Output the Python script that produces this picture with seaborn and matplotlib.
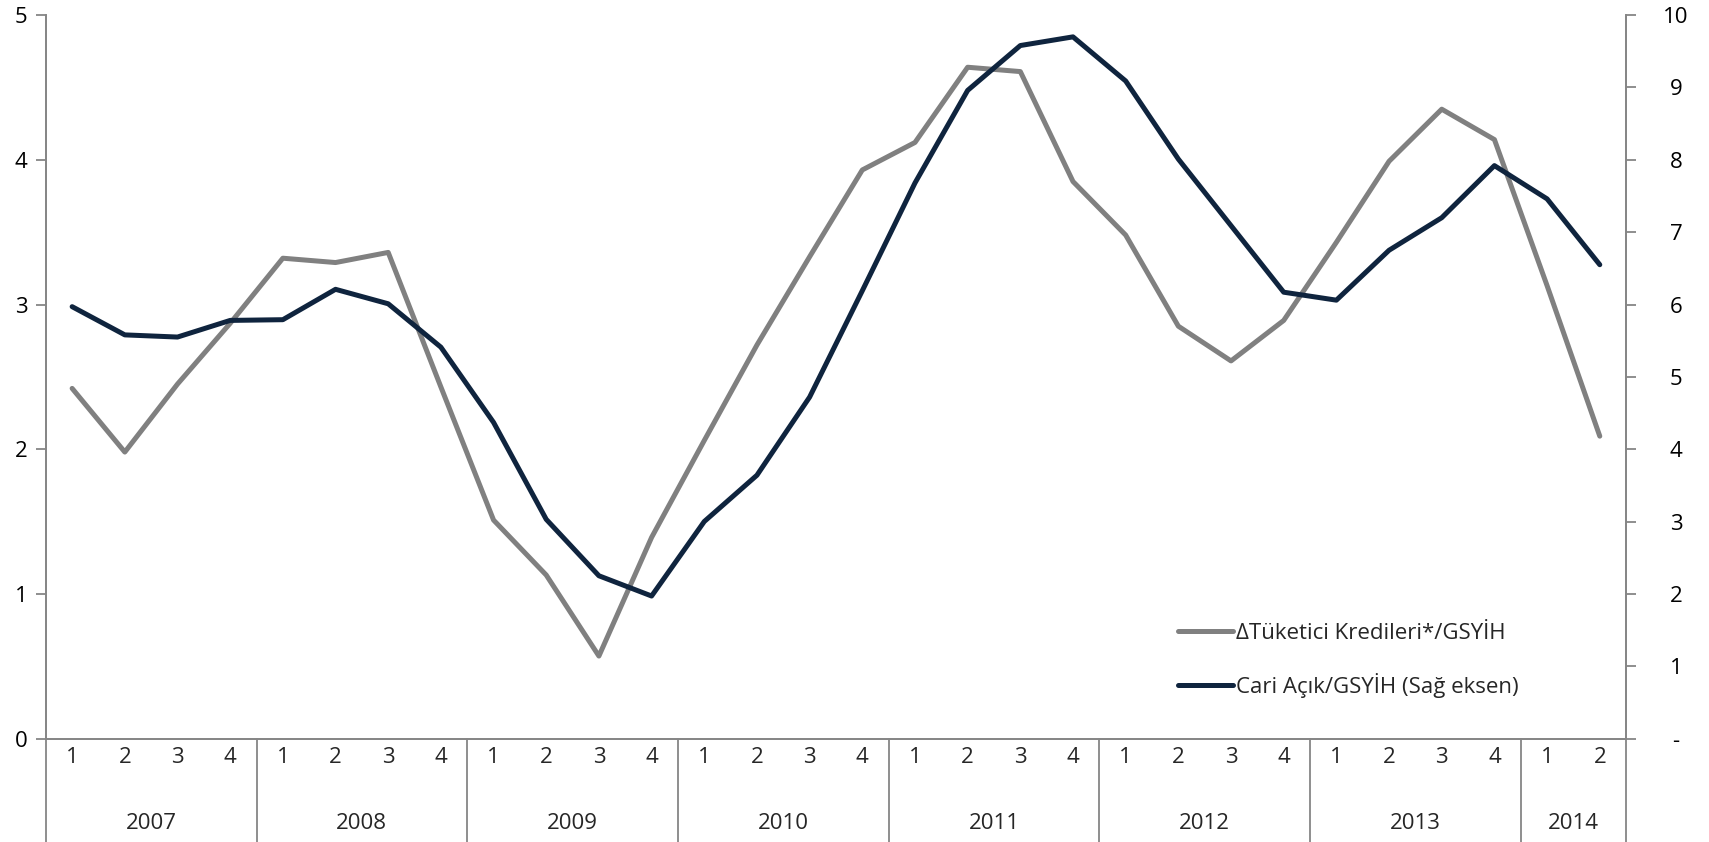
import matplotlib
matplotlib.use("Agg")
import matplotlib.pyplot as plt
import matplotlib.transforms as mtransforms
from matplotlib.lines import Line2D
import numpy as np
import pandas as pd
import seaborn as sns

# ---- data ----
years = ["2007", "2008", "2009", "2010", "2011", "2012", "2013", "2014"]
quarters_per_year = [4, 4, 4, 4, 4, 4, 4, 2]
quarter_labels = ["1", "2", "3", "4"] * 7 + ["1", "2"]

tuketici = [2.42, 1.98, 2.45, 2.87, 3.32, 3.29, 3.36, 2.43,
            1.51, 1.13, 0.57, 1.39, 2.06, 2.72, 3.33, 3.93,
            4.12, 4.64, 4.61, 3.85, 3.48, 2.85, 2.61, 2.89,
            3.43, 3.99, 4.35, 4.14, 3.13, 2.09]
cari = [5.97, 5.58, 5.55, 5.78, 5.79, 6.21, 6.01, 5.41,
        4.37, 3.03, 2.25, 1.97, 3.00, 3.64, 4.72, 6.19,
        7.68, 8.96, 9.58, 9.70, 9.09, 8.01, 7.09, 6.17,
        6.06, 6.75, 7.20, 7.92, 7.46, 6.55]

left_ticks = [0, 1, 2, 3, 4, 5]
right_ticks = [0, 1, 2, 3, 4, 5, 6, 7, 8, 9, 10]
right_tick_labels = ["-", "1", "2", "3", "4", "5", "6", "7", "8", "9", "10"]

label_tuk = "\u0394T\u00fcketici Kredileri*/GSY\u0130H"
label_cari = "Cari A\u00e7\u0131k/GSY\u0130H (Sa\u011f eksen)"

# ---- style ----
sns.set_style("white")
plt.rcParams["font.family"] = ["Open Sans", "DejaVu Sans"]
FS = 16
GRAY = "#808080"
NAVY = "#0F243E"
AXC = "#868686"

n = len(tuketici)
df = pd.DataFrame({"x": np.arange(n), "tuk": tuketici, "cari": cari})

fig = plt.figure(figsize=(17.09, 8.42), dpi=100)
ax = fig.add_axes([0.0268, 0.1229, 0.9515 - 0.0268, 0.982 - 0.1229])
ax2 = ax.twinx()

sns.lineplot(data=df, x="x", y="tuk", ax=ax, color=GRAY, linewidth=3.6,
             label=label_tuk, legend=False)
sns.lineplot(data=df, x="x", y="cari", ax=ax2, color=NAVY, linewidth=3.6,
             label=label_cari, legend=False)

for a in (ax, ax2):
    a.set_xlim(-0.5, n - 0.5)
    a.set_xlabel("")
    a.set_ylabel("")
    for s in a.spines.values():
        s.set_color(AXC)
        s.set_linewidth(1.3)
    a.spines["top"].set_visible(False)

ax.set_ylim(0, 5)
ax2.set_ylim(0, 10)
ax.set_yticks(left_ticks)
ax.set_yticklabels([str(t) for t in left_ticks])
ax2.set_yticks(right_ticks)
ax2.set_yticklabels(right_tick_labels)

ax.tick_params(axis="y", direction="out", length=7, width=1.3, color=AXC,
               labelsize=FS, pad=6, labelcolor="black")
ax2.tick_params(axis="y", direction="out", length=7, width=1.3, color=AXC,
                labelsize=FS, pad=29, labelcolor="black")
for t in ax2.get_yticklabels():
    t.set_horizontalalignment("center")

# x axis: quarter labels
ax.set_xticks(np.arange(n))
ax.set_xticklabels(quarter_labels)
ax.tick_params(axis="x", length=0, labelsize=FS, pad=6)
ax2.tick_params(axis="x", length=0)
ax.set_xticks(np.arange(n + 1) - 0.5, minor=True)
ax.tick_params(axis="x", which="minor", direction="out", length=26.5,
               width=1.3, color=AXC)

# year separators and labels
trans = mtransforms.blended_transform_factory(ax.transData, ax.transAxes)
bounds = np.concatenate([[0], np.cumsum(quarters_per_year)]) - 0.5
for b in bounds:
    ax.add_line(Line2D([b, b], [0, -0.2], transform=trans, color=AXC,
                       linewidth=1.3, clip_on=False))
for i, yr in enumerate(years):
    c = (bounds[i] + bounds[i + 1]) / 2
    ax.text(c, -0.118, yr, transform=trans, ha="center", va="center",
            fontsize=FS)

# legend
h1, l1 = ax.get_legend_handles_labels()
h2, l2 = ax2.get_legend_handles_labels()
leg = ax2.legend(h1 + h2, l1 + l2, loc="upper left",
                 bbox_to_anchor=(0.711, 0.172), frameon=False, fontsize=FS,
                 handlelength=2.45, handletextpad=0.15, labelspacing=1.3,
                 borderaxespad=0)
for lh in leg.get_lines():
    lh.set_linewidth(3.6)
    lh.set_solid_capstyle("round")

fig.savefig("out.png", dpi=100)
